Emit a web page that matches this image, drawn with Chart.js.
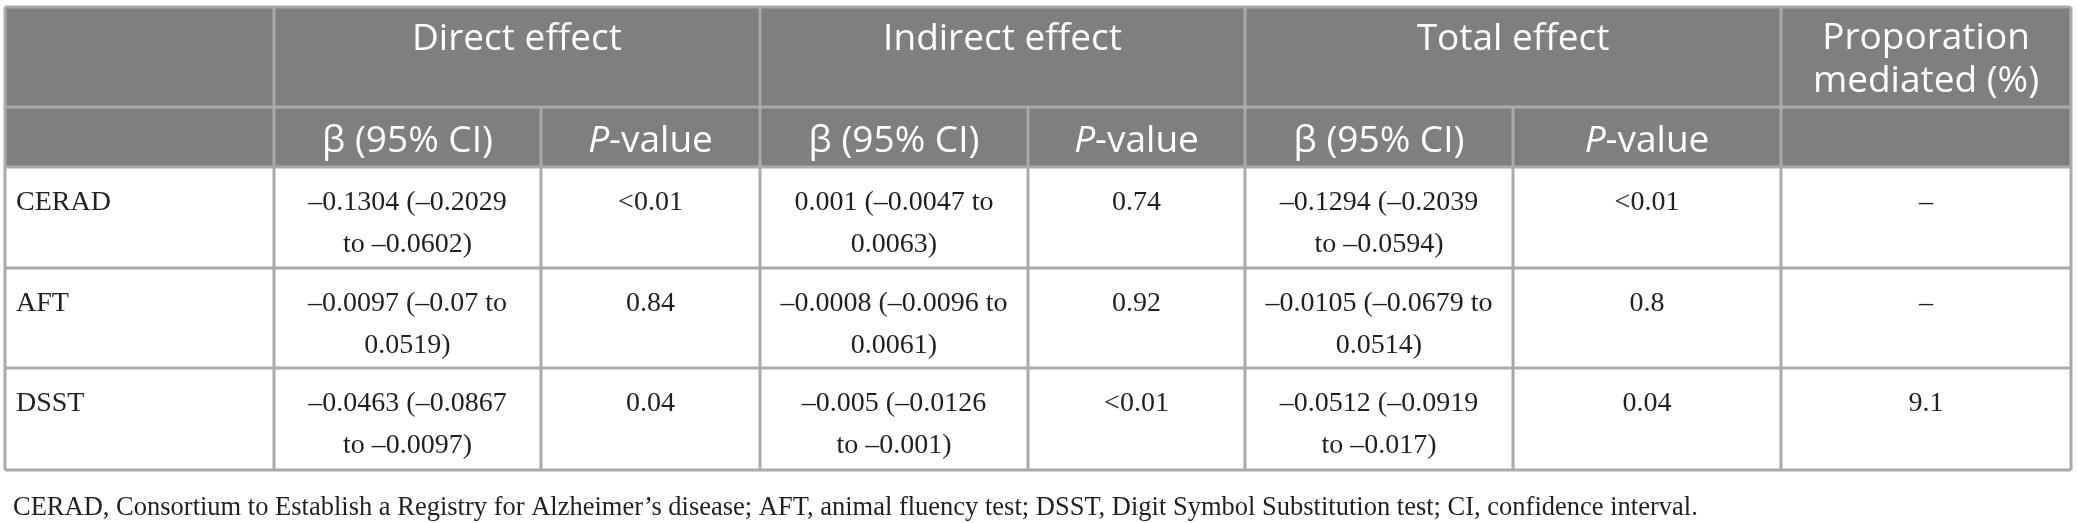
<!DOCTYPE html>
<html>
<head>
<meta charset="utf-8">
<script src="https://cdn.jsdelivr.net/npm/chart.js@4.4.0/dist/chart.umd.min.js"></script>
<style>
  html, body { margin: 0; padding: 0; background: #fff; }
  #wrap { width: 2078px; height: 523px; }
</style>
</head>
<body>
<div id="wrap"><canvas id="tbl"></canvas></div>
<script>
// table content
var groups = ["Direct effect", "Indirect effect", "Total effect"];
var lastHead = ["Proporation", "mediated (%)"];
var subHeads = ["β (95% CI)", "P-value"];
var outcomes = ["CERAD", "AFT", "DSST"];
var directBeta = [["–0.1304 (–0.2029", "to –0.0602)"], ["–0.0097 (–0.07 to", "0.0519)"], ["–0.0463 (–0.0867", "to –0.0097)"]];
var directP = ["<0.01", "0.84", "0.04"];
var indirectBeta = [["0.001 (–0.0047 to", "0.0063)"], ["–0.0008 (–0.0096 to", "0.0061)"], ["–0.005 (–0.0126", "to –0.001)"]];
var indirectP = ["0.74", "0.92", "<0.01"];
var totalBeta = [["–0.1294 (–0.2039", "to –0.0594)"], ["–0.0105 (–0.0679 to", "0.0514)"], ["–0.0512 (–0.0919", "to –0.017)"]];
var totalP = ["<0.01", "0.8", "0.04"];
var mediated = ["–", "–", "9.1"];
var footnote = "CERAD, Consortium to Establish a Registry for Alzheimer’s disease; AFT, animal fluency test; DSST, Digit Symbol Substitution test; CI, confidence interval.";

// layout, in scale units
var colEdges = [5, 274, 541, 760, 1028, 1245, 1513, 1781, 2071];
var rowEdges = [7, 107, 167, 268, 368, 470];

var HEAD_FONT = "37px 'Open Sans'";
var HEAD_ITALIC = "italic 37px 'Open Sans'";
var BODY_FONT = "28px 'Liberation Serif'";
var NOTE_FONT = "26.5px 'Liberation Serif'";

var tablePlugin = {
  id: 'tablePlugin',
  afterDraw: function(chart) {
    var ctx = chart.ctx;
    var xs = chart.scales.x, ys = chart.scales.y;
    function X(v) { return xs.getPixelForValue(v); }
    function Y(v) { return ys.getPixelForValue(v); }
    function mid(i, j) { return (X(colEdges[i]) + X(colEdges[j])) / 2; }

    ctx.save();
    // header background
    ctx.fillStyle = '#7f7f7f';
    ctx.fillRect(X(colEdges[0]), Y(rowEdges[0]), X(colEdges[8]) - X(colEdges[0]), Y(rowEdges[2]) - Y(rowEdges[0]));

    // header text
    ctx.fillStyle = '#ffffff';
    ctx.font = HEAD_FONT;
    ctx.textAlign = 'center';
    ctx.textBaseline = 'alphabetic';
    groups.forEach(function(g, k) {
      ctx.fillText(g, mid(1 + 2 * k, 3 + 2 * k), Y(rowEdges[0] + 43));
    });
    lastHead.forEach(function(t, k) {
      ctx.fillText(t, mid(7, 8), Y(rowEdges[0] + 42 + k * 43));
    });
    for (var k = 0; k < 3; k++) {
      ctx.font = HEAD_FONT;
      ctx.textAlign = 'center';
      ctx.fillText(subHeads[0], mid(1 + 2 * k, 2 + 2 * k), Y(rowEdges[1] + 45));
      // P-value with italic P
      var cx = mid(2 + 2 * k, 3 + 2 * k);
      ctx.font = HEAD_ITALIC;
      var wP = ctx.measureText('P').width;
      ctx.font = HEAD_FONT;
      var rest = subHeads[1].slice(1);
      var wR = ctx.measureText(rest).width;
      var x0 = cx - (wP + wR) / 2;
      ctx.textAlign = 'left';
      ctx.font = HEAD_ITALIC;
      ctx.fillText('P', x0, Y(rowEdges[1] + 45));
      ctx.font = HEAD_FONT;
      ctx.fillText(rest, x0 + wP, Y(rowEdges[1] + 45));
    }

    // body text
    ctx.fillStyle = '#231f20';
    ctx.font = BODY_FONT;
    var cols = [directBeta, directP, indirectBeta, indirectP, totalBeta, totalP, mediated];
    outcomes.forEach(function(name, r) {
      var top = rowEdges[2 + r];
      ctx.textAlign = 'left';
      ctx.fillText(name, X(colEdges[0] + 11), Y(top + 43));
      ctx.textAlign = 'center';
      cols.forEach(function(col, c) {
        var lines = [].concat(col[r]);
        lines.forEach(function(line, l) {
          ctx.fillText(line, mid(1 + c, 2 + c), Y(top + 43 + l * 42));
        });
      });
    });

    // grid lines
    ctx.strokeStyle = '#aaaaaa';
    ctx.lineWidth = 3;
    ctx.beginPath();
    rowEdges.forEach(function(y) {
      ctx.moveTo(X(colEdges[0]), Y(y));
      ctx.lineTo(X(colEdges[8]), Y(y));
    });
    colEdges.forEach(function(x, i) {
      var fromRow = (i % 2 === 0 && i > 0 && i < 8) ? 1 : 0;
      ctx.moveTo(X(x), Y(rowEdges[fromRow]));
      ctx.lineTo(X(x), Y(rowEdges[5]));
    });
    ctx.stroke();

    // footnote
    ctx.fillStyle = '#231f20';
    ctx.font = NOTE_FONT;
    ctx.textAlign = 'left';
    ctx.fillText(footnote, X(13), Y(515));
    ctx.restore();
  }
};

new Chart(document.getElementById('tbl'), {
  type: 'scatter',
  data: { datasets: [] },
  options: {
    responsive: true,
    maintainAspectRatio: false,
    devicePixelRatio: 1,
    animation: false,
    layout: { padding: 0 },
    scales: {
      x: { type: 'linear', min: 0, max: 2078, display: false },
      y: { type: 'linear', min: 0, max: 523, reverse: true, display: false }
    },
    plugins: { legend: { display: false }, tooltip: { enabled: false } }
  },
  plugins: [tablePlugin]
});
</script>
</body>
</html>
